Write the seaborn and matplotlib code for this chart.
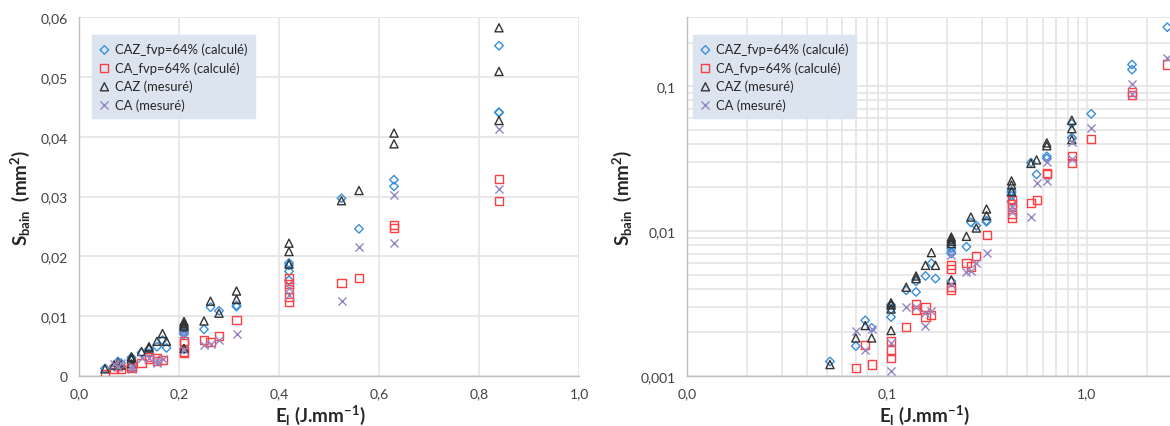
import matplotlib
matplotlib.use("Agg")
import matplotlib.pyplot as plt
import matplotlib.ticker as mticker
import seaborn as sns

# ---------------- data ----------------
caz_calc_x = [0.052, 0.07, 0.078, 0.084, 0.105, 0.105, 0.105, 0.125, 0.14, 0.14, 0.156, 0.167, 0.175,
              0.21, 0.21, 0.21, 0.21, 0.21, 0.25, 0.263, 0.28, 0.315, 0.315,
              0.42, 0.42, 0.42, 0.42, 0.525, 0.56, 0.63, 0.63, 0.84, 0.84, 0.84, 1.05, 1.68, 1.68, 2.52]
caz_calc_y = [0.00126, 0.00161, 0.00242, 0.00215, 0.00255, 0.0029, 0.0031, 0.0039, 0.0038, 0.0045, 0.0049, 0.0060, 0.0047,
              0.0070, 0.0072, 0.0076, 0.0080, 0.0045, 0.0078, 0.0115, 0.0109, 0.0116, 0.0118,
              0.0160, 0.0175, 0.0185, 0.0189, 0.0297, 0.0246, 0.0317, 0.0328, 0.0440, 0.0441, 0.0552, 0.0644, 0.130, 0.141, 0.255]

ca_calc_x = [0.052, 0.07, 0.078, 0.084, 0.105, 0.105, 0.105, 0.125, 0.14, 0.14, 0.156, 0.156, 0.167,
             0.21, 0.21, 0.21, 0.21, 0.25, 0.263, 0.28, 0.315,
             0.42, 0.42, 0.42, 0.42, 0.42, 0.525, 0.56, 0.63, 0.63, 0.84, 0.84, 1.05, 1.68, 1.68, 2.52]
ca_calc_y = [0.0004, 0.00114, 0.00163, 0.0012, 0.00133, 0.0015, 0.00174, 0.00218, 0.00284, 0.00315, 0.00255, 0.0030, 0.00265,
             0.0039, 0.0041, 0.0055, 0.0058, 0.0060, 0.0057, 0.0067, 0.0094,
             0.0124, 0.0132, 0.0146, 0.0154, 0.0163, 0.0156, 0.0164, 0.0247, 0.0252, 0.0293, 0.0329, 0.0434, 0.087, 0.091, 0.141]

caz_mes_x = [0.052, 0.07, 0.078, 0.084, 0.105, 0.105, 0.105, 0.105, 0.125, 0.14, 0.14, 0.156, 0.167, 0.175,
             0.21, 0.21, 0.21, 0.21, 0.21, 0.25, 0.263, 0.28, 0.315, 0.315,
             0.42, 0.42, 0.42, 0.525, 0.56, 0.63, 0.63, 0.84, 0.84, 0.84]
caz_mes_y = [0.0012, 0.00183, 0.00223, 0.00183, 0.00206, 0.0029, 0.0031, 0.0032, 0.0041, 0.0047, 0.0049, 0.0058, 0.0071, 0.0058,
             0.0046, 0.0082, 0.0085, 0.0088, 0.0091, 0.0092, 0.0125, 0.0105, 0.0128, 0.0142,
             0.0187, 0.0208, 0.0222, 0.0293, 0.0310, 0.0388, 0.0406, 0.0427, 0.0509, 0.0582]

ca_mes_x = [0.07, 0.078, 0.084, 0.105, 0.105, 0.125, 0.14, 0.156, 0.156, 0.167,
            0.21, 0.21, 0.25, 0.263, 0.28, 0.315,
            0.42, 0.42, 0.525, 0.56, 0.63, 0.63, 0.84, 0.84, 1.05, 1.68, 1.68, 2.52]
ca_mes_y = [0.00203, 0.0015, 0.0021, 0.00109, 0.0017, 0.0030, 0.0030, 0.0022, 0.0027, 0.0028,
            0.0043, 0.0068, 0.0052, 0.0053, 0.0060, 0.0071,
            0.0135, 0.0147, 0.0125, 0.0215, 0.0222, 0.0302, 0.0312, 0.0413, 0.0516, 0.0885, 0.104, 0.156]

series_labels = ["CAZ_fvp=64% (calculé)", "CA_fvp=64% (calculé)", "CAZ (mesuré)", "CA (mesuré)"]

left_xticks = [0.0, 0.2, 0.4, 0.6, 0.8, 1.0]
left_yticks = [0.0, 0.01, 0.02, 0.03, 0.04, 0.05, 0.06]
right_xticks = [0.01, 0.1, 1.0]
right_xticklabels = ["0,0", "0,1", "1,0"]
right_yticks = [0.001, 0.01, 0.1]
right_yticklabels = ["0,001", "0,01", "0,1"]

# ---------------- style ----------------
sns.set_theme(style="white")
plt.rcParams['font.family'] = ['Lato', 'DejaVu Sans']
plt.rcParams['mathtext.fontset'] = 'custom'
plt.rcParams['mathtext.rm'] = 'Lato'
plt.rcParams['mathtext.bf'] = 'Lato:bold'
plt.rcParams['mathtext.it'] = 'Lato:italic'

W, H = 1170, 427
fig = plt.figure(figsize=(W / 100, H / 100), dpi=100)
ax1 = fig.add_axes([79 / W, 50 / H, 500 / W, 359 / H])
ax2 = fig.add_axes([686.7 / W, 50 / H, (W - 686.7) / W, 359 / H])

series = [
    (caz_calc_x, caz_calc_y, 'D', '#3A8FD9', 19),
    (ca_calc_x, ca_calc_y, 's', '#FF3F3F', 34),
    (caz_mes_x, caz_mes_y, '^', '#333333', 34),
    (ca_mes_x, ca_mes_y, 'x', '#9685C4', 34),
]

grid_c = '#E4E4E4'
spine_c = '#BFBFBF'
text_c = '#404040'

for ax in (ax1, ax2):
    for (xs, ys, m, c, s), lab in zip(series, series_labels):
        if m == 'x':
            sns.scatterplot(x=xs, y=ys, marker=m, s=s, color=c, linewidth=1.0,
                            label=lab, ax=ax, zorder=3)
        else:
            sns.scatterplot(x=xs, y=ys, marker=m, s=s, color=c, facecolor='none',
                            edgecolor=c, linewidth=1.0, label=lab, ax=ax, zorder=3)
    for side in ('top', 'right'):
        ax.spines[side].set_visible(False)
    for side in ('left', 'bottom'):
        ax.spines[side].set_color(spine_c)
        ax.spines[side].set_linewidth(1.0)
    ax.set_axisbelow(True)

# Left linear chart
ax1.set_xlim(0, 1.0)
ax1.set_ylim(0, 0.06)
ax1.set_xticks(left_xticks)
ax1.set_yticks(left_yticks)
ax1.xaxis.set_major_formatter(mticker.FuncFormatter(lambda v, p: f"{v:.1f}".replace('.', ',')))
ax1.yaxis.set_major_formatter(mticker.FuncFormatter(
    lambda v, p: "0" if abs(v) < 1e-12 else f"{v:.2f}".replace('.', ',')))
ax1.grid(True, which='major', color=grid_c, linewidth=1.2)

# Right log-log chart
ax2.set_xscale('log')
ax2.set_yscale('log')
ax2.set_xlim(0.01, 2.6)
ax2.set_ylim(0.001, 0.3)
ax2.xaxis.set_major_locator(mticker.FixedLocator(right_xticks))
ax2.xaxis.set_major_formatter(mticker.FixedFormatter(right_xticklabels))
ax2.yaxis.set_major_locator(mticker.FixedLocator(right_yticks))
ax2.yaxis.set_major_formatter(mticker.FixedFormatter(right_yticklabels))
ax2.xaxis.set_minor_locator(mticker.LogLocator(base=10, subs=range(2, 10), numticks=20))
ax2.yaxis.set_minor_locator(mticker.LogLocator(base=10, subs=range(2, 10), numticks=20))
ax2.xaxis.set_minor_formatter(mticker.NullFormatter())
ax2.yaxis.set_minor_formatter(mticker.NullFormatter())
ax2.grid(True, which='both', color=grid_c, linewidth=1.2)

ylab = r'S$_{\mathbf{bain}}$  (mm$^{\mathbf{2}}$)'
xlab = r'E$_{\mathbf{l}}$ (J.mm$^{\mathbf{-1}}$)'

for ax, lx, ly, legx in ((ax1, -0.094, 0.482, 0.026), (ax2, -0.109, 0.491, 0.013)):
    ax.tick_params(axis='both', which='major', length=4, width=1, color=spine_c,
                   labelsize=10, labelcolor=text_c, pad=4)
    ax.tick_params(axis='both', which='minor', length=0)
    ax.set_ylabel(ylab, fontsize=13.5, fontweight='bold', color='#262626')
    ax.set_xlabel(xlab, fontsize=13.5, fontweight='bold', color='#262626')
    ax.yaxis.set_label_coords(lx, 0.5)
    ax.xaxis.set_label_coords(ly, -0.075)
    leg = ax.legend(loc='upper left', bbox_to_anchor=(legx, 0.95), borderaxespad=0,
                    frameon=True, fancybox=False, facecolor='#DCE4F0', edgecolor='#DCE4F0',
                    framealpha=1, fontsize=9.4, handlelength=0.7, handletextpad=0.45,
                    borderpad=0.6, labelspacing=0.45)
    for t in leg.get_texts():
        t.set_color('#262626')
    leg.set_zorder(5)

fig.savefig("out.png", dpi=100)
